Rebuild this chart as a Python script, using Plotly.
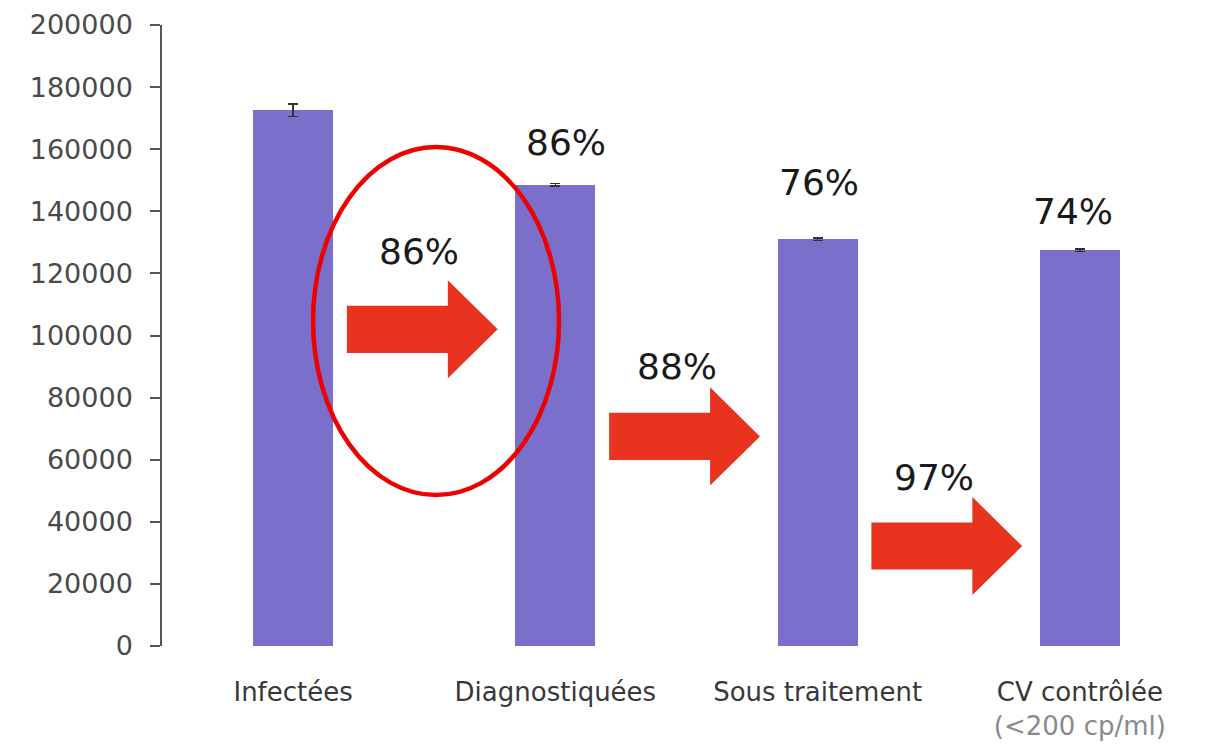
import plotly.graph_objects as go

# ---- data ----
categories = ["Infectées", "Diagnostiquées", "Sous traitement", "CV contrôlée"]
tick_labels = ["Infectées", "Diagnostiquées", "Sous traitement",
               "CV contrôlée<br><span style='color:#8a8a8a'>(&lt;200 cp/ml)</span>"]
values = [172500, 148500, 131000, 127500]
errors = [2000, 400, 400, 400]
cumulative_pct = ["86%", "76%", "74%"]          # above bars 2..4
step_pct = ["86%", "88%", "97%"]                # above arrows
y_ticks = [0, 20000, 40000, 60000, 80000, 100000, 120000, 140000, 160000, 180000, 200000]

# ---- positions / styling (not data) ----
arrow_levels = [102000, 67500, 32200]
step_label_pos = [(0.48, 126900), (1.465, 89900), (2.445, 54400)]
cum_label_pos = [(1.04, 162000), (2.005, 149400), (2.975, 139800)]

BAR = "#7A6FCB"
ARROW = "#E8331F"
FONT = "DejaVu Sans"

fig = go.Figure()
fig.add_trace(go.Bar(
    x=list(range(len(categories))), y=values,
    width=0.305,
    marker=dict(color=BAR, line=dict(width=0)),
    error_y=dict(type="data", array=errors, color="#333333", thickness=1.5, width=5),
    hoverinfo="skip",
))

shapes = []
for i, yc in enumerate(arrow_levels):
    x0, xb, xt = i + 0.205, i + 0.59, i + 0.78
    sh, hh = 7600, 15800
    path = (f"M {x0},{yc - sh} L {xb},{yc - sh} L {xb},{yc - hh} L {xt},{yc} "
            f"L {xb},{yc + hh} L {xb},{yc + sh} L {x0},{yc + sh} Z")
    shapes.append(dict(type="path", path=path, xref="x", yref="y",
                       fillcolor=ARROW, line=dict(width=0), layer="above"))

shapes.append(dict(type="circle", xref="x", yref="y",
                   x0=0.076, x1=1.014, y0=48600, y1=160700,
                   line=dict(color="#EE0000", width=4.5), fillcolor="rgba(0,0,0,0)",
                   layer="above"))

annotations = []
for txt, (x, y) in zip(step_pct, step_label_pos):
    annotations.append(dict(x=x, y=y, xref="x", yref="y", text=txt, showarrow=False,
                            font=dict(family=FONT, size=36, color="#1a1a1a")))
for txt, (x, y) in zip(cumulative_pct, cum_label_pos):
    annotations.append(dict(x=x, y=y, xref="x", yref="y", text=txt, showarrow=False,
                            font=dict(family=FONT, size=36, color="#1a1a1a")))

fig.update_layout(
    width=1204, height=738,
    margin=dict(l=154, r=1, t=17, b=100),
    paper_bgcolor="white", plot_bgcolor="white",
    showlegend=False,
    shapes=shapes, annotations=annotations,
    bargap=0,
)
fig.update_xaxes(
    range=[-0.5, 3.5], automargin=False,
    tickvals=list(range(len(categories))), ticktext=tick_labels,
    showline=False, showgrid=False, zeroline=False, ticks="",
    tickfont=dict(family=FONT, size=26, color="#383838"),
    ticklabelstandoff=28,
)
fig.update_yaxes(
    range=[0, 200000], automargin=False,
    tickvals=y_ticks, ticktext=[str(v) for v in y_ticks],
    showline=True, linecolor="#555555", linewidth=1.5,
    ticks="outside", ticklen=10, tickcolor="#555555", tickwidth=1.5,
    showgrid=False, zeroline=False,
    tickfont=dict(family=FONT, size=27, color="#4a4a4a"),
    ticklabelstandoff=12,
)

fig.write_html("out.html")
